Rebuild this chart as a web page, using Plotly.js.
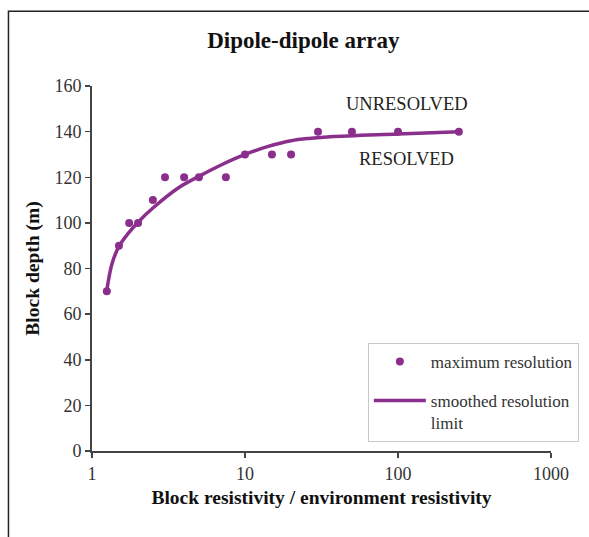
<!DOCTYPE html>
<html>
<head>
<meta charset="utf-8">
<script src="https://cdn.plot.ly/plotly-3.0.1.min.js"></script>
<style>
  html, body { margin: 0; padding: 0; background: #fff; }
  #chart { width: 589px; height: 537px; }
</style>
</head>
<body>
<div id="chart"></div>
<script>
// Measured points: block resistivity ratio vs block depth (m)
const pointRatio = [1.25, 1.5, 1.75, 2, 2.5, 3, 4, 5, 7.5, 10, 15, 20, 30, 50, 100, 250];
const pointDepth = [70, 90, 100, 100, 110, 120, 120, 120, 120, 130, 130, 130, 140, 140, 140, 140];

// Smoothed resolution limit curve
const curveRatio = [1.25, 1.35, 1.5, 1.73, 2, 2.5, 3.66, 5.1, 7.2, 10, 14, 20, 27, 36, 100, 250];
const curveDepth = [70.5, 82, 89.7, 95.5, 100.3, 106.5, 115.3, 120.7, 125.8, 130, 133.4, 136, 137.1, 137.8, 139, 140];

const xTickVals = [1, 10, 100, 1000];
const xTickText = ['1', '10', '100', '1000'];

const purple = '#8b2f8c';
const serif = 'Liberation Serif, Times New Roman, serif';

const traces = [
  {
    x: pointRatio, y: pointDepth,
    type: 'scatter', mode: 'markers',
    name: 'maximum resolution',
    legendgroup: 'a',
    marker: { color: purple, size: 8 },
    cliponaxis: false
  },
  {
    x: curveRatio, y: curveDepth,
    type: 'scatter', mode: 'lines',
    name: 'smoothed resolution<br>limit',
    legendgroup: 'b',
    line: { color: purple, width: 3.5, shape: 'spline', smoothing: 1 },
    cliponaxis: false
  }
];

const layout = {
  width: 589, height: 537,
  margin: { l: 92, r: 38, t: 86, b: 86, autoexpand: false },
  paper_bgcolor: '#fff', plot_bgcolor: '#fff',
  font: { family: serif, color: '#222', size: 18 },
  title: {
    text: '<b>Dipole-dipole array</b>',
    font: { family: serif, size: 23, color: '#111' },
    x: 0.515, xanchor: 'center', y: 0.925, yanchor: 'middle'
  },
  xaxis: {
    type: 'log', range: [0, 3],
    tickvals: xTickVals, ticktext: xTickText,
    showgrid: false, zeroline: false,
    showline: true, linecolor: '#444', linewidth: 2,
    ticks: 'outside', ticklen: 5, tickwidth: 1.5, tickcolor: '#444',
    tickfont: { family: serif, size: 18, color: '#333' },
    title: { text: '<b>Block resistivity / environment resistivity</b>', font: { family: serif, size: 19.5, color: '#111' }, standoff: 8 }
  },
  yaxis: {
    range: [0, 160], dtick: 20,
    showgrid: false, zeroline: false,
    showline: true, linecolor: '#444', linewidth: 2,
    ticks: 'outside', ticklen: 5, tickwidth: 1.5, tickcolor: '#444',
    tickfont: { family: serif, size: 18, color: '#333' },
    title: { text: '<b>Block depth (m)</b>', font: { family: serif, size: 19.5, color: '#111' }, standoff: 10 }
  },
  legend: {
    x: 0.601, y: 0.296, xanchor: 'left', yanchor: 'top',
    bgcolor: '#fff', bordercolor: '#c8c8c8', borderwidth: 1,
    font: { family: serif, size: 17, color: '#333' },
    traceorder: 'grouped', tracegroupgap: 14, valign: 'top',
    itemwidth: 52
  },
  showlegend: true,
  annotations: [
    { text: 'UNRESOLVED', x: 0.687, y: 0.951, xref: 'paper', yref: 'paper', showarrow: false,
      xanchor: 'center', yanchor: 'middle', font: { family: serif, size: 18.5, color: '#222' } },
    { text: 'RESOLVED', x: 0.685, y: 0.8, xref: 'paper', yref: 'paper', showarrow: false,
      xanchor: 'center', yanchor: 'middle', font: { family: serif, size: 18.5, color: '#222' } }
  ],
  shapes: [
    { type: 'rect', xref: 'paper', yref: 'paper', x0: -0.182, x1: 1.4, y0: -0.6, y1: 1.205,
      line: { color: '#222', width: 1.5 }, fillcolor: 'rgba(0,0,0,0)', layer: 'below' }
  ]
};

Plotly.newPlot('chart', traces, layout, { displayModeBar: false, staticPlot: true });
</script>
</body>
</html>
